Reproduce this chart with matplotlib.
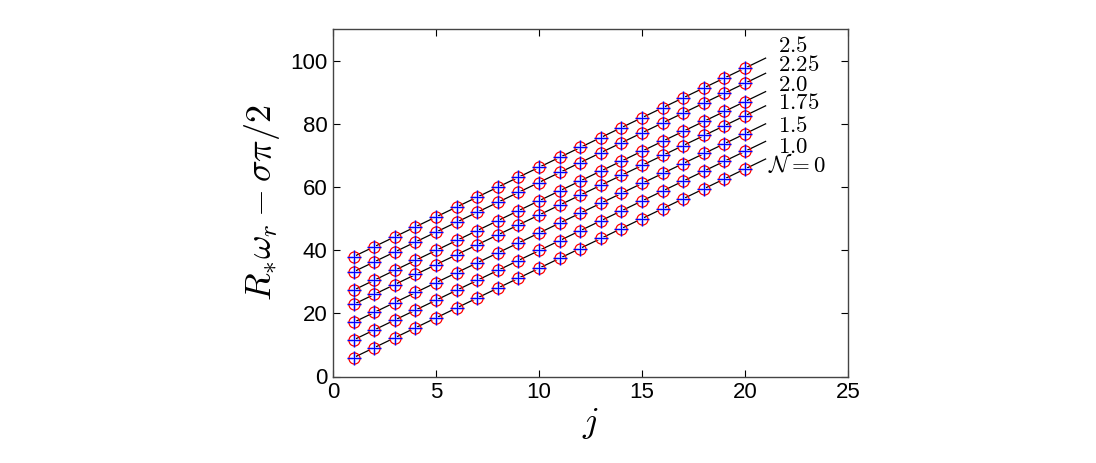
import numpy as np
import matplotlib.pyplot as plt

plt.rcParams['font.family'] = ['Liberation Sans', 'DejaVu Sans']
plt.rcParams['mathtext.fontset'] = 'cm'

# mode index j
j = np.arange(1, 21)

# R_* omega_r - sigma pi / 2 for each value of N
n_labels = [r'$\mathcal{N}=0$', r'$1.0$', r'$1.5$', r'$1.75$', r'$2.0$', r'$2.25$', r'$2.5$']

y_n00 = [6.0, 9.1, 12.3, 15.4, 18.6, 21.7, 24.8, 28.0, 31.1, 34.3,
         37.4, 40.5, 43.7, 46.8, 50.0, 53.1, 56.3, 59.4, 62.5, 65.8]
y_n10 = [11.6, 14.7, 17.9, 21.0, 24.2, 27.3, 30.4, 33.6, 36.7, 39.9,
         43.0, 46.2, 49.3, 52.4, 55.6, 58.7, 61.9, 65.0, 68.1, 71.3]
y_n15 = [17.1, 20.3, 23.4, 26.6, 29.7, 32.9, 36.0, 39.1, 42.3, 45.4,
         48.6, 51.7, 54.8, 58.0, 61.1, 64.3, 67.4, 70.6, 73.7, 76.8]
y_n175 = [22.8, 26.0, 29.1, 32.3, 35.4, 38.6, 41.7, 44.8, 48.0, 51.1,
          54.3, 57.4, 60.5, 63.7, 66.8, 70.0, 73.1, 76.3, 79.4, 82.5]
y_n20 = [27.3, 30.5, 33.6, 36.8, 39.9, 43.1, 46.2, 49.3, 52.5, 55.6,
         58.8, 61.9, 65.0, 68.2, 71.3, 74.5, 77.6, 80.8, 83.9, 87.0]
y_n225 = [33.1, 36.3, 39.4, 42.6, 45.7, 48.9, 52.0, 55.1, 58.3, 61.4,
          64.6, 67.7, 70.8, 74.0, 77.1, 80.3, 83.4, 86.6, 89.7, 92.8]
y_n25 = [37.9, 41.1, 44.2, 47.4, 50.5, 53.7, 56.8, 59.9, 63.1, 66.2,
         69.4, 72.5, 75.6, 78.8, 81.9, 85.1, 88.2, 91.4, 94.5, 97.6]

series = [y_n00, y_n10, y_n15, y_n175, y_n20, y_n225, y_n25]

# where the labels sit next to the line ends
label_x = [21.1, 21.6, 21.6, 21.6, 21.6, 21.6, 21.6]
label_y = [66.9, 72.9, 79.6, 86.6, 92.3, 98.9, 104.9]

fig = plt.figure(figsize=(10.96, 4.63), dpi=100)
ax = fig.add_axes([333 / 1096, 1 - 376.5 / 463, 515 / 1096, 347.5 / 463])

j_line = np.array([1, 21])
for ys, lab, lx, ly in zip(series, n_labels, label_x, label_y):
    # straight line through the points, carried on to j = 21
    p = np.polyfit(j, ys, 1)
    ax.plot(j_line, np.polyval(p, j_line), color='k', lw=0.9, zorder=1)
    ax.plot(j, ys, '+', color='#c4c8ff', ms=10, mew=2.2, zorder=2)
    ax.plot(j, ys, 'o', mfc='none', mec='red', ms=8, mew=0.9, zorder=3)
    ax.plot(j, ys, '+', color='blue', ms=10, mew=0.8, zorder=4)
    ax.text(lx, ly, lab, fontsize=16.5, va='center', ha='left')

ax.set_xlim(0, 25)
ax.set_ylim(0, 110)
ax.set_xticks([0, 5, 10, 15, 20, 25])
ax.set_yticks([0, 20, 40, 60, 80, 100])
ax.tick_params(direction='in', length=5, labelsize=16, top=True, right=True, pad=4)
for s in ax.spines.values():
    s.set_color('#444444')
    s.set_linewidth(1.0)

ax.set_xlabel(r'$j$', fontsize=26, labelpad=2)
ax.set_ylabel(r'$R_{*}\omega_r - \sigma\pi/2$', fontsize=26, labelpad=6)

plt.savefig('out.png', dpi=100)
